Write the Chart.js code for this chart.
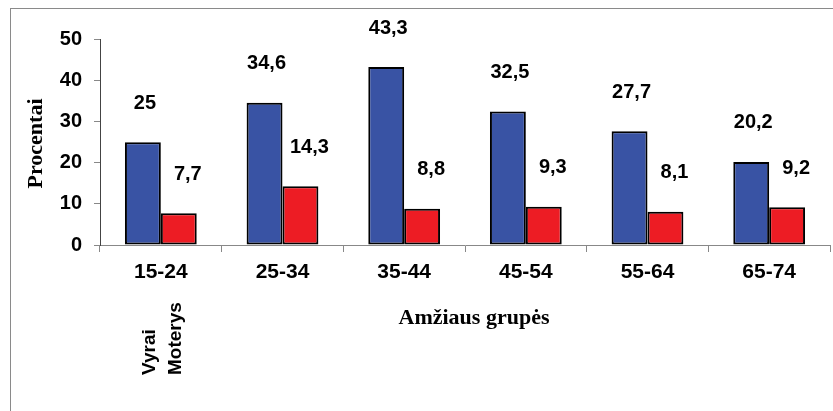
<!DOCTYPE html>
<html lang="lt">
<head>
    <meta charset="UTF-8">
    <title>Amžiaus grupės</title>
    <script src="https://cdn.jsdelivr.net/npm/chart.js"></script>
</head>
<body>
<div class="frame">
    <div class="frame-border"></div>
    <canvas id="ageChart" width="833" height="411"></canvas>
</div>

<script>
    // Chart data
    const ageGroups = ['15-24', '25-34', '35-44', '45-54', '55-64', '65-74'];
    const men = [25, 34.6, 43.3, 32.5, 27.7, 20.2];
    const women = [7.7, 14.3, 8.8, 9.3, 8.1, 9.2];
    const yTicks = [0, 10, 20, 30, 40, 50];
    const seriesNames = ['Vyrai', 'Moterys'];

    const sansBold = '"Liberation Sans", Arial, sans-serif';
    const serifBold = '"Liberation Serif", "Times New Roman", serif';

    // value labels above bars, axis titles and the vertical legend text
    const textPlugin = {
        id: 'chartTexts',
        afterDatasetsDraw(chart) {
            const ctx = chart.ctx;
            const shift = [2, 9];
            ctx.save();
            ctx.fillStyle = '#000';
            ctx.font = 'bold 20px ' + sansBold;
            ctx.textAlign = 'center';
            ctx.textBaseline = 'middle';
            chart.data.datasets.forEach((ds, i) => {
                chart.getDatasetMeta(i).data.forEach((bar, j) => {
                    const txt = String(ds.data[j]).replace('.', ',');
                    ctx.fillText(txt, bar.x + shift[i], bar.y - 39);
                });
            });

            // x axis title
            ctx.font = 'bold 22px ' + serifBold;
            ctx.textBaseline = 'alphabetic';
            ctx.fillText('Amžiaus grupės', 474, 324);

            // y axis title
            ctx.save();
            ctx.translate(41.5, 143.5);
            ctx.rotate(-Math.PI / 2);
            ctx.fillText('Procentai', 0, 0);
            ctx.restore();

            // legend, written upwards
            ctx.font = 'bold 19px ' + sansBold;
            ctx.textAlign = 'left';
            [155, 181].forEach((bx, i) => {
                ctx.save();
                ctx.translate(bx, 375);
                ctx.rotate(-Math.PI / 2);
                ctx.fillText(seriesNames[i], 0, 0);
                ctx.restore();
            });
            ctx.restore();
        }
    };

    const ctx = document.getElementById('ageChart').getContext('2d');
    new Chart(ctx, {
        type: 'bar',
        data: {
            labels: ageGroups,
            datasets: [
                {
                    label: seriesNames[0],
                    data: men,
                    backgroundColor: '#3953a4',
                    borderColor: '#000',
                    borderWidth: 2,
                    borderSkipped: false,
                    categoryPercentage: 0.59,
                    barPercentage: 1
                },
                {
                    label: seriesNames[1],
                    data: women,
                    backgroundColor: '#ed1c24',
                    borderColor: '#000',
                    borderWidth: 2,
                    borderSkipped: false,
                    categoryPercentage: 0.59,
                    barPercentage: 1
                }
            ]
        },
        options: {
            responsive: false,
            animation: false,
            devicePixelRatio: 1,
            layout: { padding: { top: 39.5, right: 3, left: 0, bottom: 0 } },
            plugins: {
                legend: { display: false },
                tooltip: { enabled: false }
            },
            scales: {
                x: {
                    grid: { drawOnChartArea: false, tickLength: 7, color: '#888', offset: true },
                    border: { color: '#888', width: 1 },
                    ticks: { color: '#000', padding: 8, font: { family: sansBold, size: 21, weight: 'bold' } },
                    afterFit: (s) => { s.height = 166; }
                },
                y: {
                    min: 0,
                    max: 50,
                    afterBuildTicks: (s) => { s.ticks = yTicks.map(v => ({ value: v })); },
                    grid: { drawOnChartArea: false, tickLength: 6, color: '#888' },
                    border: { color: '#444', width: 1 },
                    ticks: { color: '#000', padding: 12, font: { family: sansBold, size: 20, weight: 'bold' } },
                    afterFit: (s) => { s.width = 100; }
                }
            }
        },
        plugins: [textPlugin]
    });
</script>

<style>
    body {
        margin: 0;
        background: white;
    }

    .frame {
        position: relative;
        width: 833px;
        height: 411px;
        overflow: hidden;
    }

    .frame-border {
        position: absolute;
        left: 10px;
        top: 8px;
        right: -10px;
        bottom: -10px;
        border: 1px solid #8a8a8a;
    }

    canvas {
        position: absolute;
        left: 0;
        top: 0;
    }
</style>
</body>
</html>
